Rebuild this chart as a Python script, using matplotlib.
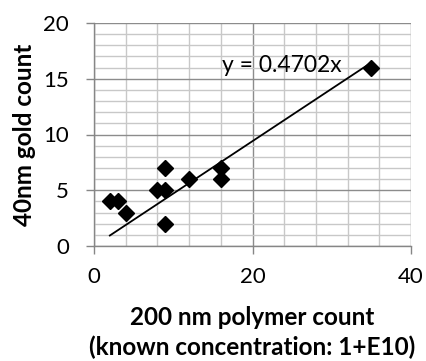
import matplotlib
matplotlib.use("Agg")
import matplotlib.pyplot as plt
import numpy as np
from matplotlib.ticker import MultipleLocator

x_vals = [2, 3, 4, 8, 9, 9, 9, 12, 16, 16, 35]
y_vals = [4, 4, 3, 5, 5, 7, 2, 6, 7, 6, 16]
slope = 0.4702
eq_label = "y = 0.4702x"
x_label = "200 nm polymer count\n(known concentration: 1+E10)"
y_label = "40nm gold count"

plt.rcParams['font.family'] = ['Lato', 'DejaVu Sans']

fig = plt.figure(figsize=(4.26, 3.61), dpi=100)
ax = fig.add_axes([94/426, 1 - 246/361, 317/426, 223/361])

ax.set_xlim(0, 40)
ax.set_ylim(0, 20)
ax.xaxis.set_major_locator(MultipleLocator(20))
ax.xaxis.set_minor_locator(MultipleLocator(4))
ax.yaxis.set_major_locator(MultipleLocator(5))
ax.yaxis.set_minor_locator(MultipleLocator(1))

ax.grid(which='major', color='#8c8c8c', linewidth=1.0)
ax.grid(which='minor', color='#c8c8c8', linewidth=1.0)
ax.set_axisbelow(True)

for s in ['top', 'right']:
    ax.spines[s].set_visible(False)
for s in ['left', 'bottom']:
    ax.spines[s].set_color('#868686')
    ax.spines[s].set_linewidth(1.0)

ax.tick_params(which='major', direction='out', length=6, width=1, color='#868686',
               labelsize=16, pad=12)
ax.tick_params(which='minor', length=0)
ax.tick_params(axis='x', pad=9)

xs = np.array([min(x_vals), max(x_vals)])
ax.plot(xs, slope * xs, color='black', linewidth=1.3, zorder=3)
ax.plot(x_vals, y_vals, linestyle='none', marker='D', markersize=8,
        color='black', zorder=4, clip_on=False)

ax.text(16.2, 16.2, eq_label, fontsize=16.5, va='center', ha='left', zorder=5)

ax.set_xlabel(x_label, fontsize=17.5, fontweight='bold', labelpad=14, linespacing=1.3)
ax.set_ylabel(y_label, fontsize=17.5, fontweight='bold', labelpad=5)

fig.savefig("out.png", dpi=100)
